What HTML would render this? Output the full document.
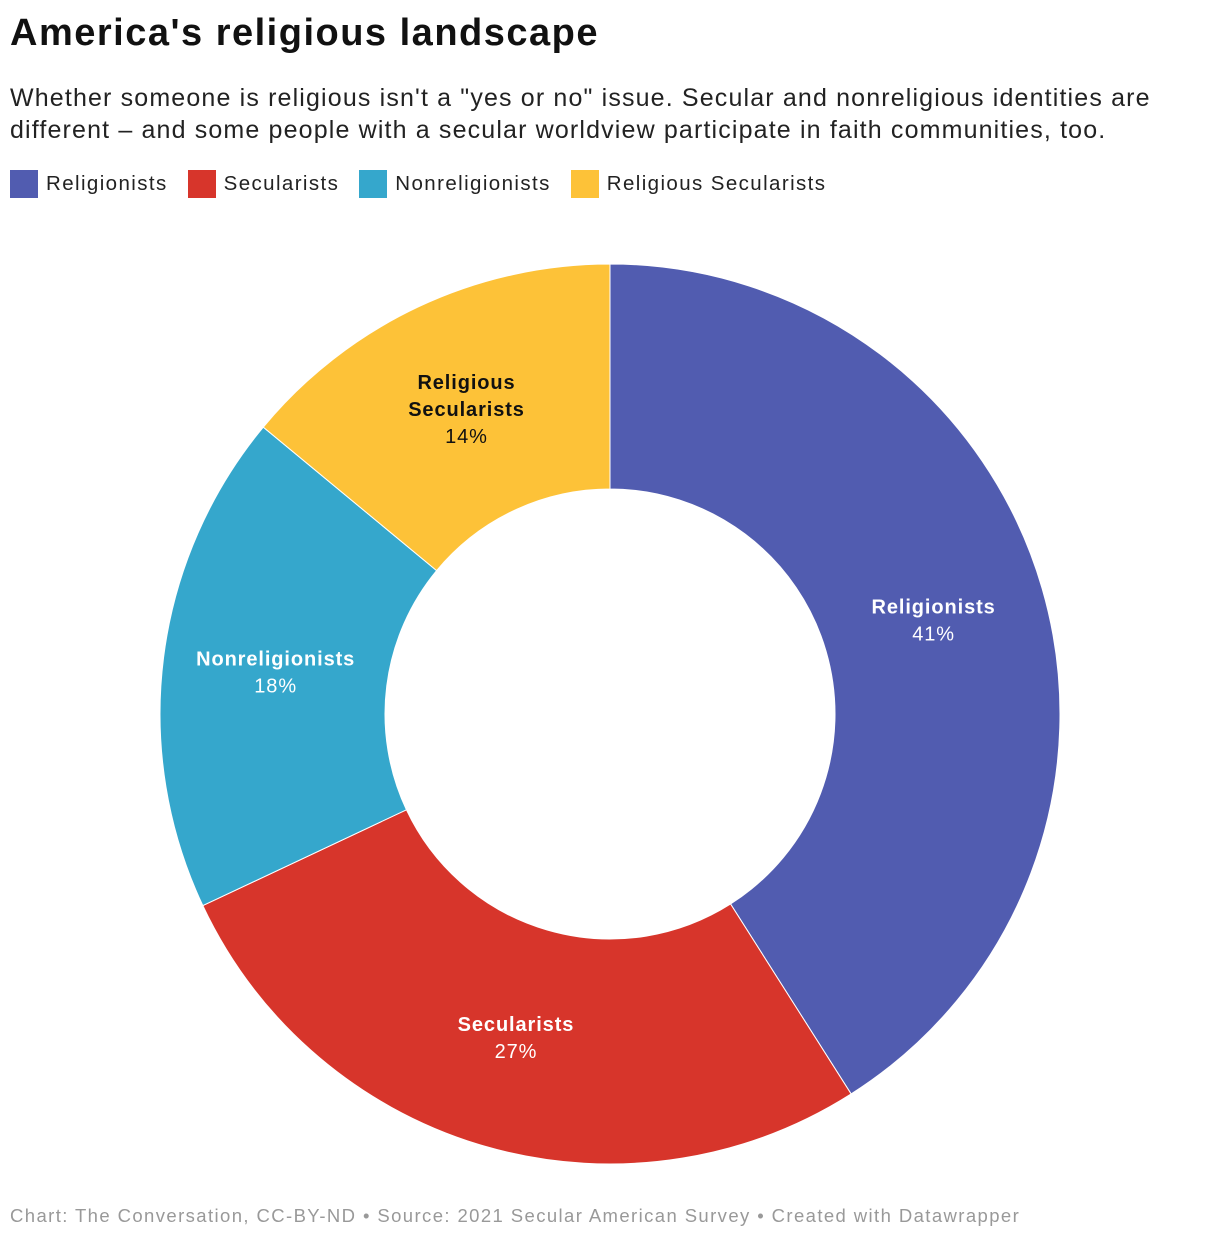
<!DOCTYPE html>
<html><head><meta charset="utf-8"><style>
body{margin:0;width:1220px;height:1240px;background:#fff;font-family:"Liberation Sans",sans-serif;position:relative;overflow:hidden}
#title{position:absolute;left:10px;top:12px;font-size:38px;font-weight:bold;color:#111;letter-spacing:1.5px}
#sub{position:absolute;left:10px;top:82px;font-size:25px;line-height:32px;color:#222;width:1210px;letter-spacing:1.15px;white-space:nowrap}
#legend{position:absolute;left:10px;top:170px;font-size:20.5px;color:#222;display:flex;letter-spacing:1.4px}
.li{display:flex;align-items:center;margin-right:20px}
.sw{width:28px;height:28px;margin-right:8px}
#foot{position:absolute;left:10px;top:1205px;font-size:18.5px;color:#999;letter-spacing:1.4px;white-space:nowrap}
svg{position:absolute;left:0;top:0}
</style></head><body>
<div id="title">America's religious landscape</div>
<div id="sub">Whether someone is religious isn't a "yes or no" issue. Secular and nonreligious identities are<br>different – and some people with a secular worldview participate in faith communities, too.</div>
<div id="legend">
<div class="li"><div class="sw" style="background:#515cb0"></div>Religionists</div>
<div class="li"><div class="sw" style="background:#d7352b"></div>Secularists</div>
<div class="li"><div class="sw" style="background:#35a7cc"></div>Nonreligionists</div>
<div class="li"><div class="sw" style="background:#fdc238"></div>Religious Secularists</div>
</div>
<svg id="chart" width="1220" height="1240"></svg>
<div id="foot">Chart: The Conversation, CC-BY-ND • Source: 2021 Secular American Survey • Created with Datawrapper</div>
<script>
const categories=["Religionists","Secularists","Nonreligionists","Religious Secularists"];
const values=[41,27,18,14];
const colors=["#515cb0","#d7352b","#35a7cc","#fdc238"];
const labelColors=["#fff","#fff","#fff","#111"];
const labelLines=[["Religionists"],["Secularists"],["Nonreligionists"],["Religious","Secularists"]];
const svg=document.getElementById('chart');
const NS="http://www.w3.org/2000/svg";
const cx=610,cy=714,R=450,r0=225,rl=337;
const total=values.reduce((a,b)=>a+b,0);
function pt(a,r){return [cx+r*Math.sin(a),cy-r*Math.cos(a)];}
let acc=0;
values.forEach((v,i)=>{
  const a0=acc/total*2*Math.PI;acc+=v;const a1=acc/total*2*Math.PI;
  const lg=(a1-a0)>Math.PI?1:0;
  const p1=pt(a0,R),p2=pt(a1,R),p3=pt(a1,r0),p4=pt(a0,r0);
  const p=document.createElementNS(NS,'path');
  p.setAttribute('d',`M${p1}A${R},${R} 0 ${lg} 1 ${p2}L${p3}A${r0},${r0} 0 ${lg} 0 ${p4}Z`);
  p.setAttribute('fill',colors[i]);p.setAttribute('stroke','#fff');p.setAttribute('stroke-width','1');
  
  
  svg.appendChild(p);
  const m=pt((a0+a1)/2,rl);
  const lines=labelLines[i];
  const n=lines.length+1;
  const startY=m[1]-(n-1)*27/2+7;
  const t=document.createElementNS(NS,'text');
  t.setAttribute('text-anchor','middle');t.setAttribute('fill',labelColors[i]);
  t.setAttribute('font-size','20');t.setAttribute('letter-spacing','0.9');
  
  
  lines.forEach((l,k)=>{const s=document.createElementNS(NS,'tspan');s.setAttribute('x',m[0]);s.setAttribute('y',startY+k*27);s.setAttribute('font-weight','bold');s.textContent=l;t.appendChild(s);});
  const s=document.createElementNS(NS,'tspan');s.setAttribute('x',m[0]);s.setAttribute('y',startY+lines.length*27);s.textContent=v+'%';t.appendChild(s);
  svg.appendChild(t);
});
</script>
</body></html>
